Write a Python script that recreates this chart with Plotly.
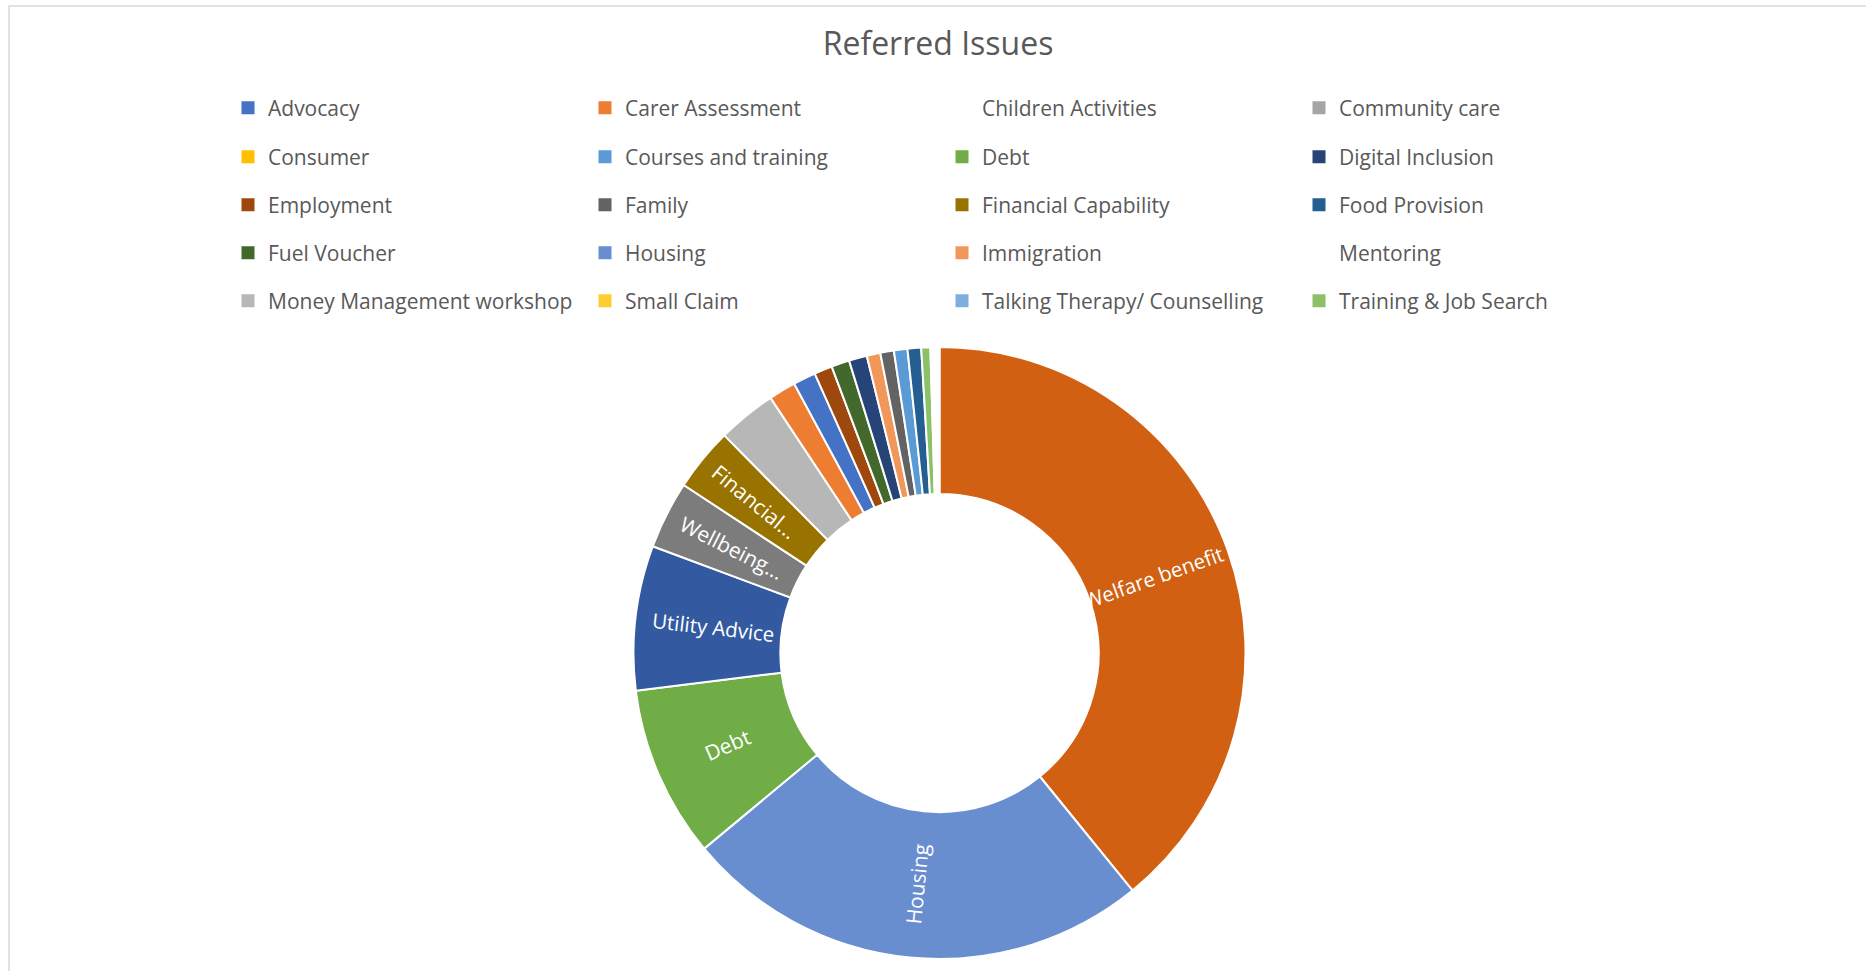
import math
import plotly.graph_objects as go

# ---------------- data ----------------
# slices, in the order they run clockwise from 12 o'clock
slice_labels = ["Welfare benefit", "Housing", "Debt", "Utility Advice", "Wellbeing",
                "Financial Capability", "Money Management workshop", "Carer Assessment",
                "Advocacy", "Employment", "Fuel Voucher", "Digital Inclusion", "Immigration",
                "Family", "Courses and training", "Food Provision", "Training & Job Search",
                "Children Activities", "Mentoring", "Consumer", "Community care",
                "Small Claim", "Talking Therapy/ Counselling"]
slice_values = [164, 104, 38, 32, 15, 14, 13, 6, 5, 4, 4, 4, 3, 3, 3, 3, 2, 1, 1, 0, 0, 0, 0]
slice_text = ["Welfare benefit", "Housing", "Debt", "Utility Advice", "Wellbeing...",
              "Financial...", "", "", "", "", "", "", "", "", "", "", "", "", "", "", "", "", ""]

# legend entries (as listed in the legend, 4 per row)
legend_rows = [
    ["Advocacy", "Carer Assessment", "Children Activities", "Community care"],
    ["Consumer", "Courses and training", "Debt", "Digital Inclusion"],
    ["Employment", "Family", "Financial Capability", "Food Provision"],
    ["Fuel Voucher", "Housing", "Immigration", "Mentoring"],
    ["Money Management workshop", "Small Claim", "Talking Therapy/ Counselling", "Training & Job Search"],
]

colors = {
    "Advocacy": "#4472C4", "Carer Assessment": "#ED7D31", "Children Activities": "#FFFFFF",
    "Community care": "#A5A5A5", "Consumer": "#FFC000", "Courses and training": "#5B9BD5",
    "Debt": "#70AD47", "Digital Inclusion": "#264478", "Employment": "#9E480E",
    "Family": "#636363", "Financial Capability": "#997300", "Food Provision": "#255E91",
    "Fuel Voucher": "#43682B", "Housing": "#698ED0", "Immigration": "#F1975A",
    "Mentoring": "#FFFFFF", "Money Management workshop": "#B7B7B7", "Small Claim": "#FFCD33",
    "Talking Therapy/ Counselling": "#7CAFDD", "Training & Job Search": "#8CC168",
    "Utility Advice": "#335AA1", "Welfare benefit": "#D26012", "Wellbeing": "#7C7C7C",
}

# labels that Excel draws rotated along the radius even where the slice crosses 3/9 o'clock
radial_annot = {"Welfare benefit", "Utility Advice"}

# ---------------- figure ----------------
W, H = 1866, 971
FONT = "Open Sans"
HOLE = 0.52
LABEL_SIZE = 21

keep = [i for i, v in enumerate(slice_values) if v > 0]
pie_labels = [slice_labels[i] for i in keep]
pie_values = [slice_values[i] for i in keep]
pie_text = [("" if slice_labels[i] in radial_annot else slice_text[i]) for i in keep]

fig = go.Figure()

cx, cy, r = 939.5, 653.0, 306.0
fig.add_trace(go.Pie(
    labels=pie_labels, values=pie_values, text=pie_text,
    textinfo="text", textposition="inside", insidetextorientation="radial",
    textfont=dict(family=FONT, size=LABEL_SIZE, color="white"),
    sort=False, direction="clockwise", rotation=0, hole=HOLE,
    marker=dict(colors=[colors[l] for l in pie_labels], line=dict(color="white", width=2)),
    domain=dict(x=[(cx - r) / W, (cx + r) / W], y=[1 - (cy + r) / H, 1 - (cy - r) / H]),
    showlegend=False, hoverinfo="label+value",
))

# radial labels for the slices that cross the horizontal axis, placed from the data
annotations = []
total = float(sum(pie_values))
cum = 0.0
rm = r * (1 + HOLE) / 2 - 5
for lab, val, i in zip(pie_labels, pie_values, keep):
    mid = (cum + val / 2) / total * 360.0
    cum += val
    if lab not in radial_annot:
        continue
    th = math.radians(mid)
    px = cx + rm * math.sin(th)
    py = cy - rm * math.cos(th)
    ang = mid - 90 if mid < 180 else mid - 270
    annotations.append(dict(
        text=slice_text[i], x=px / W, y=1 - py / H, xref="paper", yref="paper",
        xanchor="center", yanchor="middle", showarrow=False, textangle=ang,
        font=dict(family=FONT, size=20.5, color="white"),
    ))

row_y = [108, 157, 205, 253, 301]
col_x0 = 228
layout_legends = {}
for ri, row in enumerate(legend_rows):
    lname = "legend" if ri == 0 else f"legend{ri + 1}"
    for name in row:
        fig.add_trace(go.Scatter(
            x=[None], y=[None], mode="markers", name=name, legend=lname,
            marker=dict(symbol="square", size=13, color=colors[name]),
            showlegend=True, hoverinfo="skip",
        ))
    layout_legends[lname] = dict(
        orientation="h", x=col_x0 / W, xanchor="left", y=1 - row_y[ri] / H, yanchor="middle",
        entrywidth=312, entrywidthmode="pixels", bgcolor="rgba(0,0,0,0)",
        font=dict(family=FONT, size=21, color="#595959"), itemclick=False, itemdoubleclick=False,
    )

fig.update_layout(
    width=W, height=H, margin=dict(l=0, r=0, t=0, b=0),
    paper_bgcolor="white", plot_bgcolor="white",
    title=dict(text="Referred Issues", x=0.5027, xanchor="center", y=1 - 44 / H, yanchor="middle",
               font=dict(family=FONT, size=32, color="#595959")),
    xaxis=dict(visible=False), yaxis=dict(visible=False),
    annotations=annotations,
    shapes=[dict(type="rect", xref="paper", yref="paper", x0=9 / W, x1=1.01, y0=-0.01, y1=1 - 6 / H,
                 line=dict(color="#D9D9D9", width=1.5), fillcolor="rgba(0,0,0,0)", layer="below")],
    **layout_legends,
)

fig.write_html("out.html")
